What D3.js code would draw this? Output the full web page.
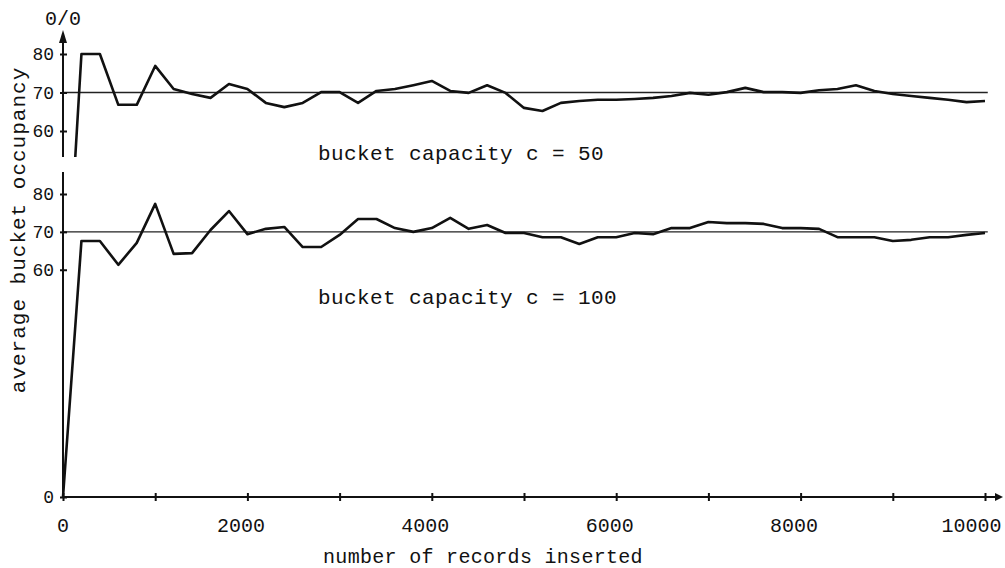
<!DOCTYPE html>
<html lang="en">
<head>
<meta charset="utf-8">
<title>Average bucket occupancy</title>
<script src="https://cdn.jsdelivr.net/npm/d3@7"></script>
<style>
  body { margin: 0; background: #fff; }
  svg { display: block; }
  text { font-family: "Liberation Mono", "DejaVu Sans Mono", monospace; fill: #111; }
</style>
</head>
<body>
<div id="chart"></div>
<script>
// records inserted, one reading every 200
const records = d3.range(0, 10001, 200);

// bucket capacity c = 50 (upper panel)
const occ50 = [0, 80, 80, 66.8, 66.8, 76.9, 70.9, 69.6, 68.6, 72.2,
  70.9, 67.3, 66.2, 67.3, 70.1, 70.1, 67.3, 70.4, 70.9, 71.9,
  73.0, 70.4, 69.9, 71.9, 69.9, 66.0, 65.2, 67.3, 67.8, 68.1,
  68.1, 68.3, 68.6, 69.1, 69.9, 69.4, 70.1, 71.2, 70.1, 70.1,
  69.9, 70.6, 70.9, 71.9, 70.4, 69.6, 69.1, 68.6, 68.1, 67.5, 67.8];

// bucket capacity c = 100 (lower panel)
const occ100 = [0, 67.6, 67.6, 61.3, 67.1, 77.4, 64.2, 64.4, 70.5, 75.5,
  69.4, 70.8, 71.3, 66.0, 66.0, 69.2, 73.4, 73.4, 71.0, 70.0,
  71.0, 73.7, 70.8, 71.8, 69.7, 69.7, 68.6, 68.6, 66.8, 68.6,
  68.6, 69.7, 69.4, 71.0, 71.0, 72.6, 72.3, 72.3, 72.1, 71.0,
  71.0, 70.8, 68.6, 68.6, 68.6, 67.6, 67.9, 68.6, 68.6, 69.2, 69.7];

const refLevel = 70;
const xTicks = d3.range(0, 10001, 1000);
const xLabels = [0, 2000, 4000, 6000, 8000, 10000];
const topTicks = [60, 70, 80];
const bottomTicks = [0, 60, 70, 80];

const width = 1005, height = 568;
const svg = d3.select("#chart").append("svg")
  .attr("width", width).attr("height", height);

const x = d3.scaleLinear().domain([0, 10000]).range([63, 985]);
const yTop = d3.scaleLinear().domain([60, 80]).range([131, 54]);
const yBot = d3.scaleLinear().domain([0, 80]).range([497, 194]);

svg.append("defs").append("clipPath").attr("id", "clipTop")
  .append("rect").attr("x", 0).attr("y", 0).attr("width", width).attr("height", 157);

// reference lines
svg.append("line")
  .attr("x1", x(0)).attr("x2", x(10030))
  .attr("y1", yTop(refLevel)).attr("y2", yTop(refLevel))
  .attr("stroke", "#222").attr("stroke-width", 1.3);
svg.append("line")
  .attr("x1", x(0)).attr("x2", x(10030))
  .attr("y1", yBot(refLevel)).attr("y2", yBot(refLevel))
  .attr("stroke", "#222").attr("stroke-width", 1.3);

// data lines
const lineTop = d3.line().x((d, i) => x(records[i])).y(d => yTop(d));
const lineBot = d3.line().x((d, i) => x(records[i])).y(d => yBot(d));

svg.append("path").datum(occ50)
  .attr("clip-path", "url(#clipTop)")
  .attr("d", lineTop)
  .attr("fill", "none").attr("stroke", "#111")
  .attr("stroke-width", 2.6).attr("stroke-linejoin", "round");

svg.append("path").datum(occ100)
  .attr("d", lineBot)
  .attr("fill", "none").attr("stroke", "#111")
  .attr("stroke-width", 2.6).attr("stroke-linejoin", "round");

// x axis
const xAxis = svg.append("g").attr("transform", `translate(0,${yBot(0)})`)
  .call(d3.axisBottom(x).tickValues(xTicks).tickSize(0).tickFormat(""));
xAxis.select(".domain").remove();
xAxis.append("line").attr("x1", x(0)).attr("x2", 998)
  .attr("stroke", "#111").attr("stroke-width", 2);
xAxis.append("path").attr("d", "M995,-4L1003,0L995,4Z").attr("fill", "#111");
xAxis.selectAll(".tick").append("line")
  .attr("y1", -4).attr("y2", 4).attr("stroke", "#111").attr("stroke-width", 2);
xAxis.selectAll(".tick").filter(d => d > 0)
  .filter(d => xLabels.includes(d))
  .append("text")
  .attr("y", 35).attr("dx", d => d === 10000 ? -14 : -7)
  .attr("text-anchor", "middle")
  .attr("font-size", 20)
  .text(d => d);
xAxis.append("text")
  .attr("x", x(0)).attr("y", 35)
  .attr("text-anchor", "middle").attr("font-size", 20)
  .text("0");

// y axis, upper panel
const yAxisTop = svg.append("g").attr("transform", `translate(${x(0)},0)`)
  .call(d3.axisLeft(yTop).tickValues(topTicks).tickSize(0).tickPadding(9));
yAxisTop.select(".domain").remove();
yAxisTop.append("line").attr("y1", 157).attr("y2", 38)
  .attr("stroke", "#111").attr("stroke-width", 2);
yAxisTop.append("path").attr("d", "M-4,43L0,30L4,43Z").attr("fill", "#111");
yAxisTop.selectAll(".tick line").attr("x1", -3).attr("x2", 4)
  .attr("stroke", "#111").attr("stroke-width", 2);
yAxisTop.selectAll(".tick text").attr("font-size", 18)
  .attr("font-family", "Liberation Mono, monospace").attr("fill", "#111");
yAxisTop.append("text").attr("x", 0).attr("y", 25)
  .attr("text-anchor", "middle").attr("font-size", 20).text("0/0");

// y axis, lower panel
const yAxisBot = svg.append("g").attr("transform", `translate(${x(0)},0)`)
  .call(d3.axisLeft(yBot).tickValues(bottomTicks).tickSize(0).tickPadding(9));
yAxisBot.select(".domain").remove();
yAxisBot.append("line").attr("y1", yBot(0)).attr("y2", 172)
  .attr("stroke", "#111").attr("stroke-width", 2);
yAxisBot.selectAll(".tick line").attr("x1", -3).attr("x2", 4)
  .attr("stroke", "#111").attr("stroke-width", 2);
yAxisBot.selectAll(".tick text").attr("font-size", 18)
  .attr("font-family", "Liberation Mono, monospace").attr("fill", "#111");

// labels
svg.append("text").attr("x", 318).attr("y", 160)
  .attr("font-size", 21).attr("letter-spacing", 0.4)
  .text("bucket capacity c = 50");
svg.append("text").attr("x", 318).attr("y", 304)
  .attr("font-size", 21).attr("letter-spacing", 0.4)
  .text("bucket capacity c = 100");
svg.append("text").attr("x", 483).attr("y", 563)
  .attr("text-anchor", "middle").attr("font-size", 20).attr("letter-spacing", 0.3)
  .text("number of records inserted");
svg.append("text")
  .attr("transform", "translate(25,230) rotate(-90)")
  .attr("text-anchor", "middle").attr("font-size", 21).attr("letter-spacing", 1)
  .text("average bucket occupancy");
</script>
</body>
</html>
